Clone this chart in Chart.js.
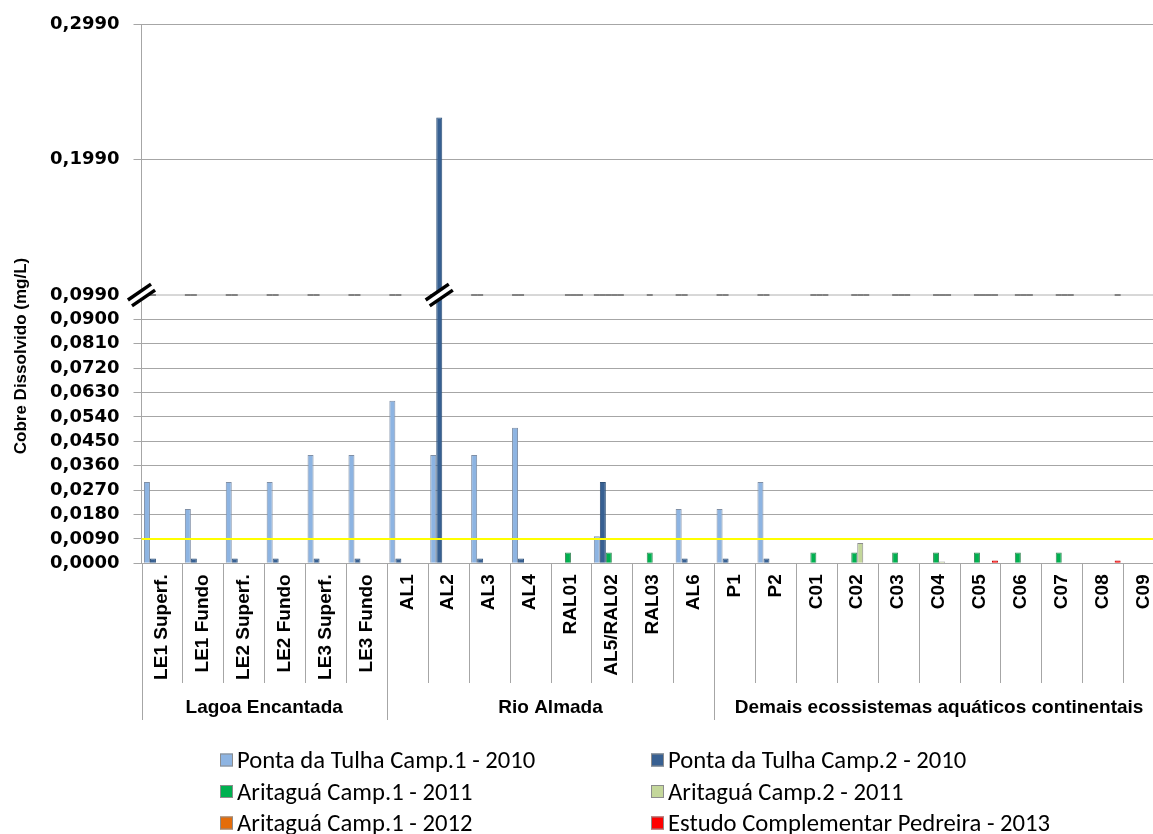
<!DOCTYPE html>
<html lang="pt-BR">
<head>
<meta charset="utf-8">
<title>Cobre Dissolvido</title>
<script src="https://cdn.jsdelivr.net/npm/chart.js@4.4.1/dist/chart.umd.min.js"></script>
<style>
  html, body { margin: 0; padding: 0; background: #fff; overflow: hidden; }
  #wrap { width: 1153px; height: 834px; overflow: hidden; }
  canvas { display: block; }
</style>
</head>
<body>
<div id="wrap"><canvas id="myChart" width="1164" height="834"></canvas></div>
<script>
//sampling stations
const stations = [
    'LE1 Superf.', 'LE1 Fundo', 'LE2 Superf.', 'LE2 Fundo', 'LE3 Superf.', 'LE3 Fundo',
    'AL1', 'AL2', 'AL3', 'AL4', 'RAL01', 'AL5/RAL02', 'RAL03', 'AL6',
    'P1', 'P2', 'C01', 'C02', 'C03', 'C04', 'C05', 'C06', 'C07', 'C08', 'C09'
];
const groupNames = ['Lagoa Encantada', 'Rio Almada', 'Demais ecossistemas aquáticos continentais'];
const groupSizes = [6, 8, 11];

//y axis
const yTicks = [0, 0.009, 0.018, 0.027, 0.036, 0.045, 0.054, 0.063, 0.072, 0.081, 0.090, 0.099, 0.199, 0.299];
const axisBreak = 0.099;   // above this the axis is compressed
const upperScale = 0.5;
const limitValue = 0.009;  // reference limit (yellow line)

//series (mg/L)
const pontaTulha1 = [0.03, 0.02, 0.03, 0.03, 0.04, 0.04, 0.06, 0.04, 0.04, 0.05, null, 0.01, null, 0.02, 0.02, 0.03,
    null, null, null, null, null, null, null, null, null];
const pontaTulha2 = [0.0018, 0.0018, 0.0018, 0.0018, 0.0018, 0.0018, 0.0018, 0.23, 0.0018, 0.0018, null, 0.03, null, 0.0018, 0.0018, 0.0018,
    null, null, null, null, null, null, null, null, null];
const aritagua1_2011 = [null, null, null, null, null, null, null, null, null, null, 0.004, 0.004, 0.004, null, null, null,
    0.004, 0.004, 0.004, 0.004, 0.004, 0.004, 0.004, null, null];
const aritagua2_2011 = [null, null, null, null, null, null, null, null, null, null, 0.0002, 0.0002, null, null, null, null,
    0.0002, 0.0075, 0.0002, 0.0007, 0.0002, 0.0002, 0.0002, null, null];
const aritagua1_2012 = [null, null, null, null, null, null, null, null, null, null, 0.0002, 0.0002, null, null, null, null,
    0.0002, 0.0002, 0.0002, 0.0002, 0.0002, 0.0002, 0.0002, null, null];
const pedreira2013 = [null, null, null, null, null, null, null, null, null, null, null, null, null, null, null, null,
    null, null, null, null, 0.001, null, null, 0.001, null];

const FONT = 'Liberation Sans, Arial, sans-serif';

function toAxis(v) {
    if (v === null) return null;
    return v <= axisBreak ? v : axisBreak + (v - axisBreak) * upperScale;
}

function fmt(v) {
    return v.toFixed(4).replace('.', ',');
}

function series(label, values, fill, border) {
    return {
        label: label,
        data: values.map(toAxis),
        raw: values,
        backgroundColor: fill,
        borderColor: border,
        borderWidth: 1,
        categoryPercentage: 0.88,
        barPercentage: 1.0
    };
}

function line(ctx, x0, y0, x1, y1) {
    ctx.beginPath();
    ctx.moveTo(x0, y0);
    ctx.lineTo(x1, y1);
    ctx.stroke();
}

// the "//" sign used where the axis is cut
function breakMark(ctx, cx, cy) {
    const ux = Math.cos(0.6), uy = -Math.sin(0.6);
    const nx = -uy, ny = ux;
    const half = 14, gap = 3.6;
    ctx.save();
    ctx.fillStyle = '#fff';
    ctx.beginPath();
    ctx.moveTo(cx - ux * half - nx * gap, cy - uy * half - ny * gap);
    ctx.lineTo(cx + ux * half - nx * gap, cy + uy * half - ny * gap);
    ctx.lineTo(cx + ux * half + nx * gap, cy + uy * half + ny * gap);
    ctx.lineTo(cx - ux * half + nx * gap, cy - uy * half + ny * gap);
    ctx.closePath();
    ctx.fill();
    ctx.strokeStyle = '#000';
    ctx.lineWidth = 3.5;
    for (const s of [-1, 1]) {
        line(ctx, cx - ux * half + s * nx * gap, cy - uy * half + s * ny * gap,
                  cx + ux * half + s * nx * gap, cy + uy * half + s * ny * gap);
    }
    ctx.restore();
}

const decorations = {
    id: 'decorations',
    beforeDatasetsDraw(chart) {
        const {ctx, chartArea, scales: {y}} = chart;
        const yb = y.getPixelForValue(toAxis(axisBreak));
        ctx.save();
        ctx.strokeStyle = '#b0b0b0';
        ctx.lineWidth = 1;
        line(ctx, chartArea.left, yb, chartArea.right, yb);
        // baseline of the upper panel under each plotted bar
        ctx.strokeStyle = '#666';
        ctx.lineWidth = 1.5;
        chart.data.datasets.forEach((ds, i) => {
            chart.getDatasetMeta(i).data.forEach((bar, j) => {
                if (ds.raw[j] === null) return;
                line(ctx, bar.x - bar.width / 2, yb, bar.x + bar.width / 2, yb);
            });
        });
        ctx.restore();
    },
    afterDatasetsDraw(chart) {
        const {ctx, chartArea, scales: {y}} = chart;
        ctx.save();
        const yl = y.getPixelForValue(toAxis(limitValue));
        ctx.strokeStyle = '#ffff00';
        ctx.lineWidth = 2;
        line(ctx, chartArea.left, yl, chartArea.right, yl);
        ctx.restore();

        const yb = y.getPixelForValue(toAxis(axisBreak));
        breakMark(ctx, chartArea.left, yb);
        chart.data.datasets.forEach((ds, i) => {
            chart.getDatasetMeta(i).data.forEach((bar, j) => {
                if (ds.raw[j] !== null && ds.raw[j] > axisBreak) breakMark(ctx, bar.x, yb);
            });
        });
    },
    afterDraw(chart) {
        const {ctx, chartArea, scales: {x}} = chart;
        const step = x.getPixelForValue(1) - x.getPixelForValue(0);
        const start = x.getPixelForValue(0) - step / 2;
        ctx.save();

        // category separators and group labels under the axis
        const edges = [0];
        groupSizes.forEach(n => edges.push(edges[edges.length - 1] + n));
        ctx.strokeStyle = '#a6a6a6';
        ctx.lineWidth = 1;
        for (let i = 0; i <= stations.length; i++) {
            const bx = Math.round(start + i * step) + 0.5;
            line(ctx, bx, chartArea.bottom, bx, edges.includes(i) ? 720 : 683);
        }
        ctx.fillStyle = '#000';
        ctx.font = 'bold 19px ' + FONT;
        ctx.textAlign = 'center';
        ctx.textBaseline = 'middle';
        groupNames.forEach((name, g) => {
            const cx = start + (edges[g] + edges[g + 1]) / 2 * step;
            ctx.fillText(name, cx, 708);
        });

        // y title
        ctx.save();
        ctx.translate(21, 356);
        ctx.rotate(-Math.PI / 2);
        ctx.font = 'bold 17px ' + FONT;
        ctx.fillText('Cobre Dissolvido (mg/L)', 0, 0);
        ctx.restore();

        // legend, two columns
        const cols = [220, 651];
        const rows = [768, 799.5, 831];
        ctx.font = '23.5px Carlito, Lato, sans-serif';
        ctx.textAlign = 'left';
        ctx.textBaseline = 'alphabetic';
        chart.data.datasets.forEach((ds, i) => {
            const bx = cols[i % 2], by = rows[Math.floor(i / 2)];
            ctx.fillStyle = ds.backgroundColor;
            ctx.fillRect(bx, by - 14.5, 13, 13);
            ctx.strokeStyle = '#8c8c8c';
            ctx.strokeRect(bx + 0.5, by - 14, 12, 12);
            ctx.fillStyle = '#000';
            ctx.save();
            ctx.translate(bx + 17, by);
            ctx.scale(1.05, 1);
            ctx.fillText(ds.label, 0, 0);
            ctx.restore();
        });
        ctx.restore();
    }
};

const ctx = document.getElementById('myChart').getContext('2d');
const chart = new Chart(ctx, {
    type: 'bar',
    data: {
        labels: stations,
        datasets: [
            series('Ponta da Tulha Camp.1 - 2010', pontaTulha1, '#8db4e2', '#7f8fa6'),
            series('Ponta da Tulha Camp.2 - 2010', pontaTulha2, '#376092', '#2f5179'),
            series('Aritaguá Camp.1 - 2011', aritagua1_2011, '#00b050', '#3c8a5a'),
            series('Aritaguá Camp.2 - 2011', aritagua2_2011, '#c4d79b', '#8c8c8c'),
            series('Aritaguá Camp.1 - 2012', aritagua1_2012, '#e46c0a', '#8c8c8c'),
            series('Estudo Complementar Pedreira - 2013', pedreira2013, '#ff0000', '#c00000')
        ]
    },
    options: {
        responsive: false,
        animation: false,
        layout: { padding: { top: 24, right: 0, bottom: 0, left: 0 } },
        plugins: {
            legend: { display: false },
            tooltip: { enabled: false }
        },
        scales: {
            x: {
                grid: { display: false, drawTicks: false },
                border: { display: true, color: '#a6a6a6' },
                ticks: {
                    autoSkip: false, minRotation: 90, maxRotation: 90, padding: 11,
                    color: '#000', font: { family: FONT, weight: 'bold', size: 19 }
                },
                afterFit(scale) {
                    scale.height = 270.7;
                    scale.paddingLeft = 0;
                    scale.paddingRight = 0;
                }
            },
            y: {
                min: 0,
                max: toAxis(yTicks[yTicks.length - 1]),
                afterBuildTicks(scale) {
                    scale.ticks = yTicks.map(v => ({ value: toAxis(v) }));
                },
                afterFit(scale) {
                    scale.width = 141.5;
                    scale.paddingTop = 0;
                    scale.paddingBottom = 0;
                },
                grid: {
                    color: c => (c.tick && Math.abs(c.tick.value - toAxis(axisBreak)) < 1e-9) ? 'rgba(0,0,0,0)' : '#a6a6a6',
                    tickColor: '#a6a6a6',
                    tickLength: 8,
                    lineWidth: 1
                },
                border: { display: true, color: '#a6a6a6' },
                ticks: {
                    padding: 14,
                    color: '#000',
                    font: { family: 'DejaVu Sans', weight: 'bold', size: 18 },
                    callback: (value, index) => fmt(yTicks[index])
                }
            }
        }
    },
    plugins: [decorations]
});
</script>
</body>
</html>
